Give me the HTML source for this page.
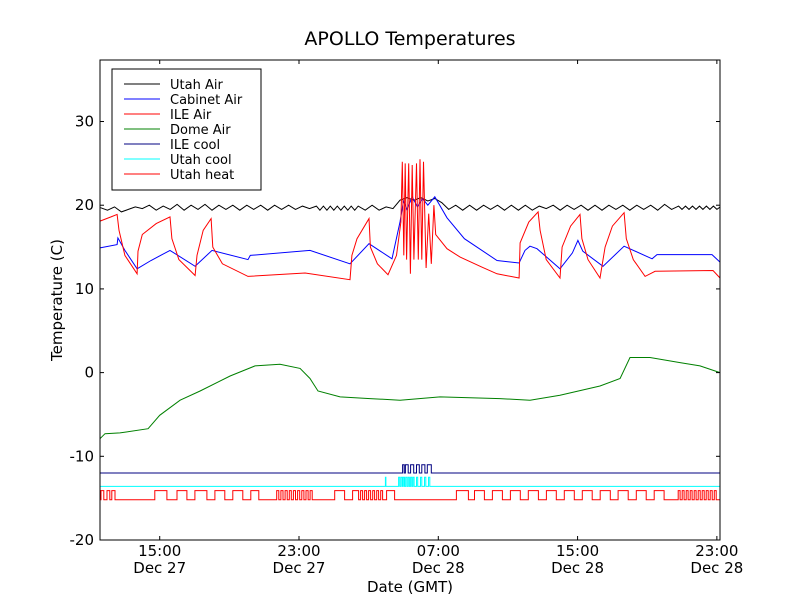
<!DOCTYPE html>
<html><head><meta charset="utf-8"><style>
body{margin:0;background:#fff;}
svg text{font-family:"DejaVu Sans","Liberation Sans",sans-serif;}
</style></head><body>
<svg id="chart" width="800" height="600" xmlns="http://www.w3.org/2000/svg">
<rect width="800" height="600" fill="#fff"/>
<text x="410" y="45" font-size="19" text-anchor="middle">APOLLO Temperatures</text>
<g id="plot"></g>
<rect x="100" y="60" width="620" height="480" fill="none" stroke="#000" stroke-width="1"/>
<g id="axes"></g>
<text x="410" y="592" font-size="15" text-anchor="middle">Date (GMT)</text>
<text transform="translate(62,300) rotate(-90)" font-size="15" text-anchor="middle">Temperature (C)</text>
<g id="legend"></g>
</svg>
<script>
const xTickHours=[15,23,31,39,47];
const xTickTime=["15:00","23:00","07:00","15:00","23:00"];
const xTickDate=["Dec 27","Dec 27","Dec 28","Dec 28","Dec 28"];
const yTicks=[-20,-10,0,10,20,30];
const utahAirT=[11.6,12.0,12.4,12.8,13.2,13.6,14.0,14.4,14.8,15.2,15.6,16.0,16.4,16.8,17.2,17.6,18.0,18.4,18.8,19.2,19.6,20.0,20.4,20.8,21.2,21.6,22.0,22.4,22.8,23.2,23.6,24.0,24.2,24.4,24.6,24.8,25.0,25.2,25.4,25.6,25.8,26.0,26.2,26.4,26.8,27.2,27.6,28.0,28.4,28.8,29.2,29.6,30.0,30.4,30.8,31.2,31.6,32.0,32.4,32.8,33.2,33.6,34.0,34.4,34.8,35.2,35.6,36.0,36.4,36.8,37.2,37.6,38.0,38.4,38.8,39.2,39.6,40.0,40.4,40.8,41.2,41.6,42.0,42.4,42.8,43.2,43.6,44.0,44.4,44.8,45.0,45.2,45.4,45.6,45.8,46.0,46.2,46.4,46.6,46.8,47.0,47.2];
const utahAirV=[19.7,19.4,19.8,19.2,19.5,19.8,19.6,20.0,19.4,19.9,19.5,20.1,19.4,20.0,19.5,20.1,19.4,20.0,19.5,20.0,19.4,20.0,19.5,20.0,19.4,20.0,19.5,20.0,19.5,19.9,19.6,19.9,19.4,19.9,19.4,19.9,19.4,19.9,19.4,19.9,19.4,19.9,19.4,19.9,19.4,20.0,19.4,19.8,19.6,20.6,20.9,20.6,20.9,20.5,20.8,20.3,19.5,20.0,19.4,20.0,19.4,20.0,19.5,20.0,19.4,20.0,19.4,20.0,19.4,19.9,19.6,20.0,19.4,20.0,19.5,20.0,19.4,20.0,19.4,20.0,19.5,20.0,19.4,20.0,19.5,20.0,19.4,20.1,19.5,19.9,19.5,19.9,19.5,19.9,19.5,19.9,19.5,19.9,19.5,19.9,19.5,19.8];
const cabinetT=[11.57,12.55,12.6,13.0,13.7,14.5,15.59,17.03,18.0,20.07,20.2,23.63,25.93,27.02,28.34,28.8,29.0,29.2,29.5,29.8,30.1,30.4,30.8,31.5,32.5,34.37,35.64,35.98,36.27,36.67,37.99,38.7,39.02,39.3,40.46,41.67,43.28,43.56,46.72,47.18];
const cabinetV=[14.9,15.3,16.1,14.6,12.4,13.4,14.6,12.7,14.6,13.5,14.0,14.6,13.0,15.4,13.6,18,20.5,19.5,21,19.8,20.8,20,21,18.5,16,13.4,13.1,14.6,15.1,14.8,12.4,14.3,15.8,14.5,12.7,15.1,13.6,14.1,14.1,13.2];
const ileAirT=[11.57,12.2,12.55,12.66,13.0,13.7,13.75,14.0,14.8,15.59,15.7,16.1,17.03,17.14,17.5,17.95,18.05,18.6,20.07,23.35,25.93,26.04,26.33,27.02,27.1,27.5,28.11,28.6,28.85,28.93,29.02,29.1,29.18,29.3,29.4,29.5,29.6,29.75,29.85,29.95,30.05,30.15,30.3,30.45,30.6,30.75,30.85,31.5,32.25,33.5,34.37,35.64,35.7,36.2,36.73,36.85,37.2,37.99,38.11,38.6,39.14,39.25,39.6,40.29,40.58,41.0,41.67,41.8,42.2,42.88,43.45,46.78,47.18];
const ileAirV=[18.1,18.6,18.9,17,14,11.8,14.5,16.5,17.8,18.6,16,13.5,11.6,14,17,18.4,15,13,11.5,11.9,11.1,14,16,18.4,15,13,11.7,14,18,25.2,14,25,13.5,25,11.8,24.8,13.5,25,13.5,25.5,13.5,25.2,12.5,19,13,20,16.5,14.8,13.8,12.6,11.8,11.3,15.5,18,19.2,17,13.5,11.3,15,17.5,18.9,16,13.5,11.3,15,17.5,19.1,16,13.5,11.5,12.1,12.2,11.3];
const domeT=[11.57,11.86,12.72,14.33,15.0,16.17,17.32,19.04,20.47,21.91,23.06,23.63,24.09,25.36,27.08,28.8,31.1,32.82,34.54,36.27,37.99,40.29,41.44,42.01,43.16,44.88,46.03,47.18];
const domeV=[-7.9,-7.3,-7.2,-6.7,-5.1,-3.3,-2.2,-0.4,0.8,1.0,0.5,-0.7,-2.2,-2.9,-3.1,-3.3,-2.9,-3.0,-3.1,-3.3,-2.7,-1.6,-0.7,1.8,1.8,1.2,0.8,0.0];
const ileCoolOn=[28.95,29.11,29.41,29.75,30.05,30.37];
const ileCoolOff=[29.04,29.27,29.59,29.91,30.23,30.60];
const ileCoolLevels=[-12.0,-11.0];
const utahCoolOn=[27.96,28.72,28.86,28.99,29.13,29.27,29.41,29.54,29.75,29.98,30.21,30.44];
const utahCoolOff=[27.99,28.79,28.93,29.06,29.20,29.34,29.48,29.61,29.82,30.05,30.28,30.51];
const utahCoolLevels=[-13.6,-12.5];
const heatOn=[11.63,11.97,12.25,14.72,15.99,17.02,18.17,19.20,20.23,21.72,21.96,22.20,22.44,22.68,22.92,23.16,23.40,23.64,25.05,26.08,26.54,26.77,27.00,27.23,27.46,27.69,28.03,32.04,33.08,34.11,35.14,36.17,37.21,38.24,39.27,40.30,41.33,42.37,43.40,44.78,45.01,45.24,45.47,45.70,45.93,46.16,46.39,46.62,46.85];
const heatOff=[11.79,12.13,12.43,15.41,16.56,17.71,18.74,19.77,20.69,21.84,22.08,22.32,22.56,22.80,23.04,23.28,23.52,23.76,25.62,26.42,26.65,26.88,27.11,27.34,27.57,27.80,28.49,32.73,33.65,34.68,35.71,36.75,37.78,38.81,39.84,40.88,41.91,42.94,43.97,44.89,45.12,45.35,45.58,45.81,46.04,46.27,46.50,46.73,46.96];
const heatLevels=[-15.2,-14.1];
const legendNames=["Utah Air","Cabinet Air","ILE Air","Dome Air","ILE cool","Utah cool","Utah heat"];

const NS="http://www.w3.org/2000/svg";
const X0=100,X1=720,Y0=60,Y1=540,H0=11.57,H1=47.18,V0=-20,V1=37.35;
function xs(h){return X0+(h-H0)/(H1-H0)*(X1-X0);}
function ys(v){return Y1-(v-V0)/(V1-V0)*(Y1-Y0);}
const plot=document.getElementById('plot');
const axes=document.getElementById('axes');
const colors=["#000000","#0000ff","#ff0000","#008000","#000080","#00ffff","#ff0000"];
function poly(T,V,color,name){
  const p=document.createElementNS(NS,'polyline');
  p.setAttribute('points',T.map((t,i)=>xs(t).toFixed(1)+','+ys(V[i]).toFixed(1)).join(' '));
  p.setAttribute('fill','none');p.setAttribute('stroke',color);p.setAttribute('stroke-width','1');
  
  
  plot.appendChild(p);
}
function stepSeries(on,off,lv){
  const T=[H0],V=[lv[0]];
  on.forEach((s,i)=>{T.push(s,s,off[i],off[i]);V.push(lv[0],lv[1],lv[1],lv[0]);});
  T.push(H1);V.push(lv[0]);
  return [T,V];
}
poly(utahAirT,utahAirV,colors[0],'utah-air-line');
poly(cabinetT,cabinetV,colors[1],'cabinet-air-line');
poly(ileAirT,ileAirV,colors[2],'ile-air-line');
poly(domeT,domeV,colors[3],'dome-air-line');
let s=stepSeries(ileCoolOn,ileCoolOff,ileCoolLevels);poly(s[0],s[1],colors[4],'ile-cool-line');
s=stepSeries(utahCoolOn,utahCoolOff,utahCoolLevels);poly(s[0],s[1],colors[5],'utah-cool-line');
s=stepSeries(heatOn,heatOff,heatLevels);poly(s[0],s[1],colors[6],'utah-heat-line');

function line(x1,y1,x2,y2,name){
  const l=document.createElementNS(NS,'line');
  l.setAttribute('x1',x1);l.setAttribute('y1',y1);l.setAttribute('x2',x2);l.setAttribute('y2',y2);
  l.setAttribute('stroke','#000');l.setAttribute('stroke-width','1');
  
  
  axes.appendChild(l);
}
function text(x,y,str,anchor,name,size){
  const t=document.createElementNS(NS,'text');
  t.setAttribute('x',x);t.setAttribute('y',y);t.setAttribute('text-anchor',anchor);
  t.setAttribute('font-size',size||15);t.textContent=str;
  
  
  axes.appendChild(t);
  return t;
}
yTicks.forEach(v=>{
  const y=ys(v);
  line(X0,y,X0+4,y,'y-tick');
  line(X1-4,y,X1,y,'y-tick-right');
  text(94,y+5,String(v),'end','y-tick-label',15);
});
xTickHours.forEach((h,i)=>{
  const x=xs(h);
  line(x,Y1,x,Y1-4,'x-tick');
  line(x,Y0,x,Y0+4,'x-tick-top');
  text(x,556,xTickTime[i],'middle','x-tick-label',15);
  text(x,573,xTickDate[i],'middle','x-tick-date',15);
});
const lg=document.getElementById('legend');
const box=document.createElementNS(NS,'rect');
box.setAttribute('x',112);box.setAttribute('y',69);box.setAttribute('width',149);box.setAttribute('height',121);
box.setAttribute('fill','#fff');box.setAttribute('stroke','#000');


lg.appendChild(box);
legendNames.forEach((n,i)=>{
  const y=84+i*15;
  const l=document.createElementNS(NS,'line');
  l.setAttribute('x1',124);l.setAttribute('x2',160);l.setAttribute('y1',y);l.setAttribute('y2',y);
  l.setAttribute('stroke',colors[i]);l.setAttribute('stroke-width','1');
  
  
  lg.appendChild(l);
  const t=document.createElementNS(NS,'text');
  t.setAttribute('x',170);t.setAttribute('y',y+5);t.setAttribute('font-size',13);
  t.textContent=n;
  
  
  lg.appendChild(t);
});
</script>
</body></html>
